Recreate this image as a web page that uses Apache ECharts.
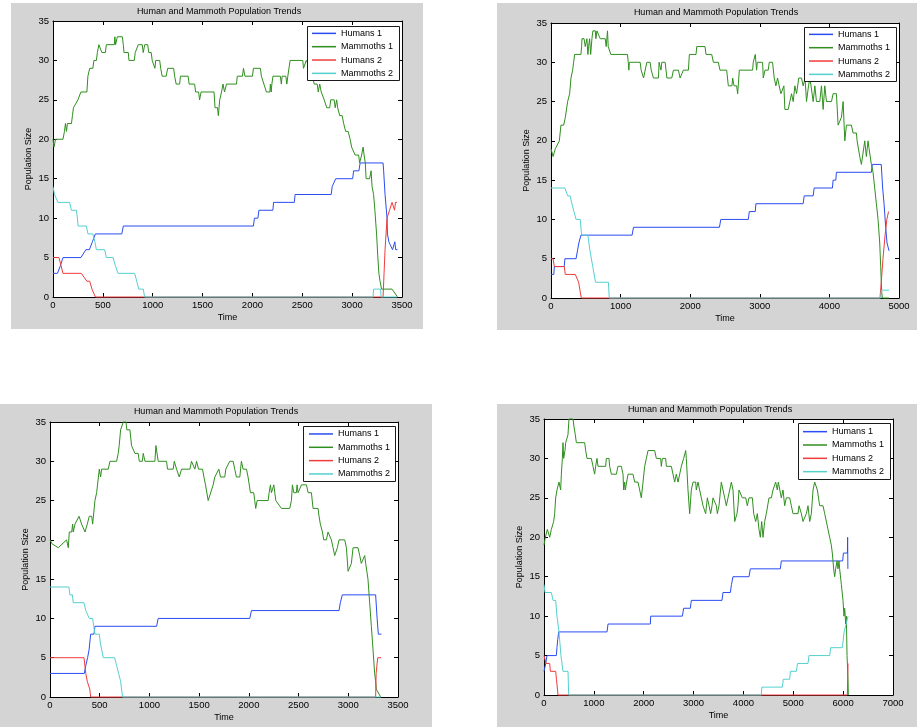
<!DOCTYPE html>
<html>
<head>
<meta charset="utf-8">
<title>Human and Mammoth Population Trends</title>
<script src="https://cdn.jsdelivr.net/npm/echarts/dist/echarts.min.js"></script>
<style>
  html, body { margin: 0; padding: 0; background: #ffffff; }
  #chart { width: 917px; height: 727px; }
</style>
</head>
<body>
<div id="chart"></div>
<script>
// ---- Simulation runs: [time, population] samples ----
const seriesNames = ['Humans 1', 'Mammoths 1', 'Humans 2', 'Mammoths 2'];

// Run 1
const p1Humans1 = [[0,3],[45,3],[75,4],[100,5],[280,5],[330,6],[365,6],[395,7],[425,8],[690,8],[705,9],[2010,9],[2020,10],[2055,10],[2065,11],[2205,11],[2212,12],[2420,12],[2428,13],[2790,13],[2800,14],[2835,15],[3005,15],[3015,16],[3068,16],[3080,17],[3310,17],[3316,16],[3330,13],[3350,10],[3354,8],[3368,7],[3405,6],[3418,6],[3428,7],[3437,6],[3455,6]];
const p1Mammoths1 = [[0,20],[10,19],[25,20],[100,20],[115,21],[125,22],[135,21],[145,22],[185,22],[195,23],[205,24],[225,24],[250,25],[280,26],[340,26],[350,28],[368,29],[400,29],[410,30],[435,30],[445,31],[460,32],[480,32],[490,31],[525,31],[535,32],[615,32],[620,33],[628,32],[645,33],[695,33],[705,32],[712,31],[755,31],[762,30],[815,30],[825,31],[845,31],[855,32],[895,32],[905,31],[915,31],[920,32],[950,32],[960,31],[985,31],[995,30],[1015,30],[1022,29],[1030,30],[1070,30],[1080,29],[1095,28],[1135,28],[1150,29],[1210,29],[1220,28],[1235,27],[1270,27],[1278,28],[1355,28],[1365,27],[1420,27],[1430,26],[1460,26],[1470,25],[1485,26],[1615,26],[1625,24],[1650,24],[1658,23],[1672,25],[1690,26],[1705,27],[1720,26],[1740,27],[1840,27],[1848,28],[1900,28],[1910,29],[1925,28],[2000,28],[2010,29],[2080,29],[2090,28],[2115,27],[2140,26],[2175,26],[2180,27],[2188,26],[2195,27],[2206,28],[2280,28],[2290,27],[2298,28],[2335,28],[2345,27],[2355,28],[2378,30],[2505,30],[2512,29],[2530,29],[2540,30],[2560,30],[2580,29],[2600,28],[2620,27],[2650,27],[2660,26],[2675,27],[2690,26],[2720,25],[2745,24],[2775,24],[2785,25],[2820,25],[2830,24],[2845,25],[2855,24],[2875,23],[2900,23],[2915,22],[2935,21],[2960,21],[2980,20],[2995,19],[3015,19],[3030,18],[3065,18],[3075,17],[3095,18],[3110,19],[3120,18],[3132,17],[3140,15],[3175,15],[3190,16],[3200,14],[3215,13],[3228,11],[3245,8],[3258,5],[3268,3],[3280,2],[3295,1],[3400,1],[3455,0]];
const p1Humans2 = [[0,5],[60,5],[100,3],[284,3],[340,2],[368,2],[391,1],[425,0],[3310,0],[3320,3],[3330,6],[3350,10],[3375,11],[3400,12],[3415,12],[3425,11],[3435,12],[3450,12]];
const p1Mammoths2 = [[0,14],[15,13],[50,12],[167,12],[184,11],[234,11],[245,10],[251,9],[334,9],[351,8],[400,8],[420,7],[435,6],[518,6],[535,5],[602,5],[625,4],[652,3],[819,3],[840,2],[860,1],[905,1],[919,0],[3210,0],[3215,1],[3285,1],[3290,0],[3455,0]];

// Run 2
const p2Humans1 = [[0,3],[40,3],[48,4],[190,4],[200,5],[360,5],[380,6],[400,7],[430,8],[1165,8],[1185,9],[2420,9],[2440,10],[2835,10],[2849,11],[2935,11],[2944,12],[3623,12],[3638,13],[3767,13],[3781,14],[4044,14],[4053,15],[4092,15],[4101,16],[4603,16],[4617,17],[4745,17],[4765,14],[4785,12],[4809,9],[4828,7],[4857,6]];
const p2Mammoths1 = [[0,19],[30,18],[38,18],[62,19],[120,20],[134,20],[143,22],[182,22],[206,23],[220,23],[239,25],[268,26],[287,28],[311,29],[325,30],[340,31],[430,31],[440,32],[445,33],[475,33],[492,32],[516,33],[530,31],[540,32],[555,33],[570,31],[588,33],[602,34],[636,34],[645,33],[660,34],[684,34],[707,33],[779,33],[793,32],[800,32],[812,34],[822,32],[841,32],[860,31],[1099,31],[1110,30],[1119,29],[1125,30],[1281,30],[1295,29],[1330,28],[1353,28],[1377,30],[1424,30],[1440,29],[1472,28],[1544,28],[1553,30],[1570,30],[1580,29],[1592,30],[1640,30],[1665,28],[1735,28],[1759,29],[1831,29],[1855,28],[1879,28],[1902,29],[1974,29],[1988,31],[2084,31],[2094,32],[2213,32],[2227,31],[2309,31],[2333,30],[2404,30],[2428,29],[2524,29],[2548,27],[2600,27],[2610,28],[2630,27],[2667,27],[2682,26],[2706,29],[2897,29],[2906,30],[2935,31],[2954,29],[2964,30],[3040,30],[3050,28],[3074,29],[3121,29],[3136,30],[3183,30],[3207,28],[3231,27],[3255,28],[3279,28],[3303,26],[3327,26],[3346,27],[3360,24],[3408,24],[3432,25],[3456,26],[3480,25],[3504,27],[3528,26],[3560,28],[3599,28],[3623,27],[3650,28],[3671,25],[3700,27],[3720,28],[3767,25],[3791,27],[3814,25],[3862,25],[3886,27],[3910,24],[3934,27],[3958,25],[4030,25],[4053,26],[4101,26],[4125,22],[4149,22],[4173,23],[4197,25],[4221,20],[4245,22],[4316,22],[4340,21],[4388,21],[4398,20],[4436,18],[4460,17],[4484,17],[4508,20],[4531,18],[4555,20],[4570,19],[4603,17],[4627,16],[4651,14],[4675,12],[4699,10],[4723,7],[4737,4],[4750,1],[4760,0],[4860,0]];
const p2Humans2 = [[0,5],[29,5],[48,4],[191,4],[205,3],[349,3],[397,2],[435,0],[4727,0],[4745,2],[4770,5],[4800,8],[4825,10],[4850,11]];
const p2Mammoths2 = [[0,14],[200,14],[240,13],[275,13],[300,12],[330,11],[360,10],[420,10],[440,8],[530,8],[560,6],[600,4],[640,2],[825,2],[837,0],[4740,0],[4745,1],[4860,1]];

// Run 3
const p3Humans1 = [[0,3],[345,3],[360,4],[378,5],[393,6],[409,8],[442,8],[452,9],[1072,9],[1088,10],[2009,10],[2026,11],[2907,11],[2920,12],[2940,13],[3275,13],[3290,10],[3302,8],[3333,8]];
const p3Mammoths1 = [[0,20],[20,19.5],[83,19],[167,20],[184,19],[194,21],[218,21],[228,22],[234,21],[251,22],[292,23],[318,22],[352,21],[375,22],[395,23],[419,23],[429,22],[452,25],[469,26],[486,26],[496,29],[509,28],[519,29],[586,29],[603,30],[670,30],[686,31],[696,32],[710,34],[737,35],[764,35],[773,34],[804,34],[820,32],[854,31],[887,31],[898,30],[928,30],[938,31],[955,30],[1055,30],[1065,32],[1088,30],[1172,30],[1182,29],[1239,29],[1250,30],[1273,29],[1300,28],[1306,28],[1323,29],[1407,29],[1423,30],[1440,30],[1457,29],[1474,30],[1484,30],[1494,29],[1534,29],[1548,28],[1564,27],[1591,25],[1608,25],[1641,27],[1658,28],[1675,28],[1698,29],[1715,28],[1758,28],[1768,29],[1808,30],[1842,30],[1858,29],[1875,28],[1909,28],[1925,30],[1942,29],[1976,29],[1992,28],[2016,26],[2049,26],[2059,25],[2069,24],[2083,25],[2194,25],[2204,26],[2217,27],[2227,26],[2251,27],[2271,25],[2328,24],[2411,24],[2428,25],[2438,27],[2452,26],[2478,26],[2485,27],[2495,26],[2512,26],[2529,27],[2579,27],[2596,26],[2629,26],[2646,24],[2696,24],[2706,23],[2719,22],[2740,21],[2753,20],[2780,20],[2796,21],[2813,21],[2830,20],[2847,19],[2863,18],[2880,18],[2890,19],[2907,20],[2964,20],[2981,19],[2998,16],[3014,16],[3031,17],[3048,19],[3098,19],[3115,18],[3131,17],[3148,17],[3165,18],[3175,17],[3198,15],[3215,12],[3232,9],[3249,6],[3265,3],[3275,2],[3282,1],[3299,1],[3326,0]];
const p3Humans2 = [[0,5],[342,5],[360,3],[375,2],[400,1],[409,0],[3275,0],[3280,3],[3296,5],[3330,5]];
const p3Mammoths2 = [[0,14],[190,14],[200,13],[225,13],[234,12],[342,12],[360,11],[395,10],[429,10],[440,9],[452,8],[496,8],[505,7],[520,6],[536,5],[650,5],[670,4],[690,3],[710,2],[730,0],[3330,0]];

// Run 4
const p4Humans1 = [[0,3],[25,3],[35,4],[60,5],[247,5],[260,6],[275,7],[294,8],[1264,8],[1284,9],[2133,9],[2140,10],[2775,10],[2801,11],[2935,11],[2955,12],[3570,12],[3590,13],[3737,13],[3760,14],[3790,15],[4112,15],[4139,16],[4740,16],[4760,17],[5990,17],[6005,18],[6085,18],[6090,20],[6095,16]];
const p4Mammoths1 = [[0,19],[27,20],[67,21],[114,20],[147,21],[194,22],[214,23],[234,25],[261,26],[294,26],[301,27],[334,26],[348,28],[368,30],[381,32],[394,30],[415,30],[421,31],[435,32],[461,32],[481,33],[501,35],[582,35],[602,34],[628,33],[649,32],[816,32],[836,31],[862,30],[949,30],[983,29],[1016,28],[1036,29],[1063,30],[1083,29],[1237,29],[1250,30],[1304,30],[1317,29],[1351,28],[1451,28],[1484,29],[1551,29],[1585,28],[1598,26],[1618,27],[1631,26],[1685,28],[1785,28],[1819,27],[1885,27],[1919,26],[1952,25],[1986,27],[2019,29],[2053,30],[2086,31],[2220,31],[2253,30],[2340,30],[2353,29],[2374,30],[2440,30],[2454,29],[2554,29],[2621,27],[2654,28],[2688,27],[2755,29],[2801,30],[2842,31],[2855,30],[2888,26],[2922,23],[2955,26],[2989,27],[3042,27],[3055,26],[3089,27],[3122,26],[3156,25],[3189,24],[3223,24],[3243,23],[3276,25],[3310,24],[3343,23],[3370,24],[3390,25],[3423,25],[3457,24],[3477,23],[3510,24],[3557,27],[3590,26],[3624,25],[3657,24],[3691,25],[3724,25],[3758,27],[3791,26],[3825,22],[3858,22],[3871,23],[3891,24],[3911,26],[3938,26],[3978,25],[4045,25],[4078,24],[4112,25],[4179,25],[4206,23],[4246,22],[4279,23],[4312,21],[4339,20],[4366,22],[4393,20],[4426,22],[4459,23],[4513,25],[4560,25],[4593,26],[4647,27],[4680,26],[4700,27],[4727,27],[4760,25],[4794,26],[4827,24],[4861,25],[4928,25],[4961,24],[4994,23],[5095,23],[5115,24],[5162,23],[5195,22],[5229,22],[5262,23],[5295,24],[5329,22],[5362,23],[5396,26],[5429,27],[5462,27],[5483,26],[5529,24],[5596,24],[5630,23],[5696,21],[5730,20],[5763,19],[5783,18],[5810,16],[5830,15],[5850,16],[5877,17],[5897,16],[5917,17],[5930,16],[5964,14],[5997,12],[6017,10],[6031,11],[6051,9],[6064,10],[6078,5],[6098,2],[6104,0]];
const p4Humans2 = [[0,5],[15,5],[40,4],[114,4],[128,3],[234,3],[250,2],[281,0],[6085,0],[6090,2],[6098,4]];
const p4Mammoths2 = [[0,14],[20,13],[148,13],[181,12],[235,12],[260,10],[301,8],[340,5],[381,3],[482,3],[495,0],[4359,0],[4370,1],[4780,1],[4800,2],[4928,2],[4941,3],[5061,3],[5085,4],[5295,4],[5315,5],[5730,5],[5750,6],[5984,6],[6020,8],[6060,9],[6098,10]];

// Axis ranges
const xMaxes = [3500, 5000, 3500, 7000];
const xSteps = [500, 1000, 500, 1000];
const yMax = 35;
const yStep = 5;

const runs = [
  [p1Humans1, p1Mammoths1, p1Humans2, p1Mammoths2],
  [p2Humans1, p2Mammoths1, p2Humans2, p2Mammoths2],
  [p3Humans1, p3Mammoths1, p3Humans2, p3Mammoths2],
  [p4Humans1, p4Mammoths1, p4Humans2, p4Mammoths2]
];

// ---- Layout and styling ----
const FONT = '"Liberation Sans", Arial, Helvetica, sans-serif';
const lineColors = ['#2a4cf2', '#2f8f1f', '#f03c3c', '#55d0d0'];
const panelLayout = [
  { grid: { left: 53, top: 21, width: 349, height: 276 }, bg: [11, 3, 412, 326], title: [219, 12], box: [307, 26, 92, 54], legend: [312, 26.7] },
  { grid: { left: 551, top: 23, width: 348, height: 275 }, bg: [497, 3, 420, 327], title: [716, 12.5], box: [804, 27, 92, 54], legend: [809, 27.7] },
  { grid: { left: 50, top: 422, width: 348, height: 275 }, bg: [0, 404, 432, 323], title: [216, 411.5], box: [303, 426, 92, 55], legend: [309, 427.3] },
  { grid: { left: 544, top: 419, width: 349, height: 276 }, bg: [497, 404, 420, 323], title: [710, 410], box: [798, 423, 92, 56], legend: [803, 425] }
];

const plainNumber = v => String(v);
const tickStyle = { show: true, inside: true, length: 4, lineStyle: { color: '#000', width: 1 } };
const axisLineStyle = { show: true, onZero: false, lineStyle: { color: '#000', width: 1 } };
const labelStyle = { color: '#000', fontSize: 9.5, fontFamily: FONT, formatter: plainNumber };

const grids = [], xAxes = [], yAxes = [], series = [], legends = [], graphics = [];

panelLayout.forEach((pl, p) => {
  grids.push(Object.assign({ show: true, backgroundColor: '#ffffff', borderWidth: 0 }, pl.grid));

  const xCommon = { type: 'value', gridIndex: p, min: 0, max: xMaxes[p], interval: xSteps[p], splitLine: { show: false }, axisLine: axisLineStyle, axisTick: tickStyle };
  const yCommon = { type: 'value', gridIndex: p, min: 0, max: yMax, interval: yStep, splitLine: { show: false }, axisLine: axisLineStyle, axisTick: tickStyle };

  xAxes.push(Object.assign({}, xCommon, {
    position: 'bottom',
    name: 'Time', nameLocation: 'middle', nameGap: 16,
    nameTextStyle: { color: '#000', fontSize: 9, fontFamily: FONT },
    axisLabel: Object.assign({ margin: 3, showMinLabel: true, showMaxLabel: true }, labelStyle)
  }));
  yAxes.push(Object.assign({}, yCommon, {
    position: 'left',
    name: 'Population Size', nameLocation: 'middle', nameGap: 20, nameRotate: 90,
    nameTextStyle: { color: '#000', fontSize: 9, fontFamily: FONT },
    axisLabel: Object.assign({ margin: 4, showMinLabel: true, showMaxLabel: true }, labelStyle)
  }));

  // figure background panel and legend frame
  graphics.push({ type: 'rect', z: -5, silent: true, shape: { x: pl.bg[0], y: pl.bg[1], width: pl.bg[2], height: pl.bg[3] }, style: { fill: '#d4d4d4' } });
  graphics.push({ type: 'rect', z: 10, silent: true, shape: { x: pl.box[0] + 0.5, y: pl.box[1] + 0.5, width: pl.box[2], height: pl.box[3] }, style: { fill: '#ffffff', stroke: '#1a1a1a', lineWidth: 1 } });
  graphics.push({ type: 'text', z: 10, silent: true, x: pl.title[0], y: pl.title[1], style: { text: 'Human and Mammoth Population Trends', fill: '#000', font: '9px ' + FONT, textAlign: 'center', textVerticalAlign: 'middle' } });

  legends.push({
    orient: 'vertical', left: pl.legend[0], top: pl.legend[1], padding: 0, itemGap: 0,
    itemWidth: 24, itemHeight: 1.5, icon: 'rect', selectedMode: false, z: 20,
    data: seriesNames,
    textStyle: { color: '#000', fontSize: 9, fontFamily: FONT, lineHeight: 13.33 }
  });

  runs[p].forEach((data, k) => {
    series.push({
      type: 'line', name: seriesNames[k], xAxisIndex: p, yAxisIndex: p,
      data: data, symbol: 'none', showSymbol: false, clip: false, silent: true,
      color: lineColors[k],
      lineStyle: { color: lineColors[k], width: 1 }
    });
  });
});

// mirror axes along the top and right edges carry the inward ticks of the box
panelLayout.forEach((pl, p) => {
  xAxes.push({ type: 'value', gridIndex: p, position: 'top', min: 0, max: xMaxes[p], interval: xSteps[p], splitLine: { show: false }, axisLine: axisLineStyle, axisTick: tickStyle, axisLabel: { show: false } });
  yAxes.push({ type: 'value', gridIndex: p, position: 'right', min: 0, max: yMax, interval: yStep, splitLine: { show: false }, axisLine: axisLineStyle, axisTick: tickStyle, axisLabel: { show: false } });
});

const chart = echarts.init(document.getElementById('chart'), null, { renderer: 'canvas' });
chart.setOption({
  backgroundColor: '#ffffff',
  animation: false,
  grid: grids,
  xAxis: xAxes,
  yAxis: yAxes,
  legend: legends,
  graphic: { elements: graphics },
  series: series
});
</script>
</body>
</html>
